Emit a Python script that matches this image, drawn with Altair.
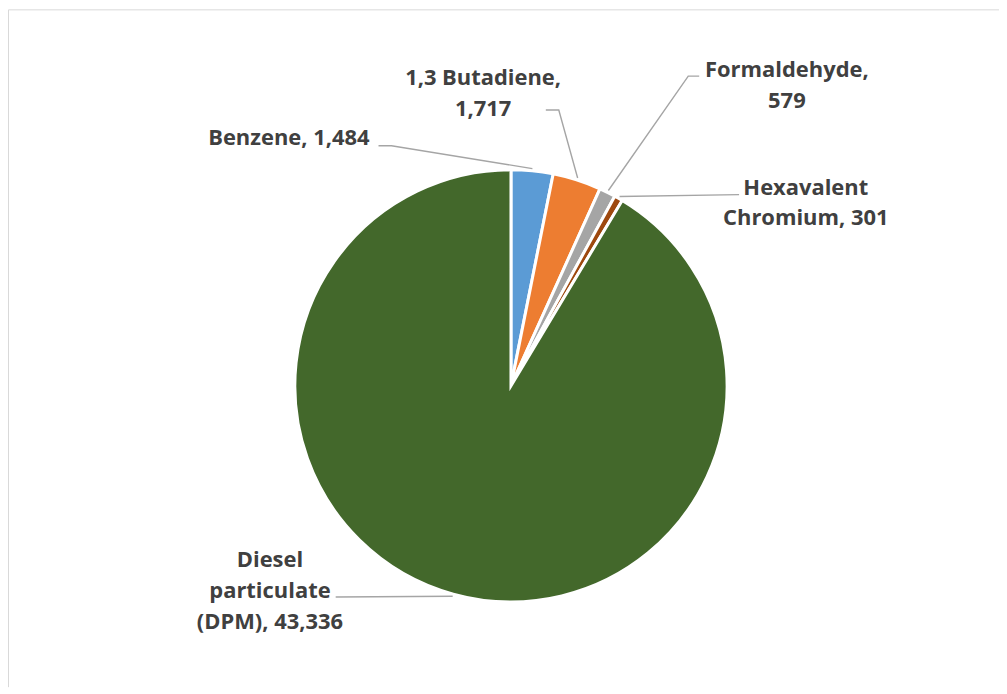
import math
import altair as alt
import pandas as pd

# ---- data ----
categories = ["Benzene", "1,3 Butadiene", "Formaldehyde", "Hexavalent Chromium", "Diesel particulate (DPM)"]
values = [1484, 1717, 579, 301, 43336]
label_texts = ["Benzene, 1,484", "1,3 Butadiene,\n1,717", "Formaldehyde,\n579",
               "Hexavalent\nChromium, 301", "Diesel\nparticulate\n(DPM), 43,336"]
colors = ["#5B9BD5", "#ED7D31", "#A5A5A5", "#9E480E", "#43682B"]

# ---- layout (pixels) ----
W, H = 995, 680
CX, CY = 505, 378
R = 217
EDGE = 1.01
# first-line centre of each label, offset from pie centre (px, x right / y up)
label_pos = [(-223, 249), (-28, 309), (277, 317), (296, 199), (-242, -175)]
# leader line elbow and end (px from centre)
leader_pts = [
    [(-120, 241), (-133, 241)],
    [(48, 277), (35, 277)],
    [(178, 311), (189, 311)],
    [(229, 192), (229, 192)],
    [(-176, -212), (-176, -212)],
]

x_dom = [-CX / R, (W - CX) / R]
y_dom = [-(H - CY) / R, CY / R]
xs = alt.Scale(domain=x_dom, nice=False, zero=False)
ys = alt.Scale(domain=y_dom, nice=False, zero=False)
ax_x = alt.Axis(orient="top", domain=True, domainColor="#D9D9D9", domainWidth=1,
                ticks=False, labels=False, grid=False, title="")
ax_y = alt.Axis(orient="left", domain=True, domainColor="#D9D9D9", domainWidth=1,
                ticks=False, labels=False, grid=False, title="")

total = sum(values)

df_pie = pd.DataFrame({
    "category": categories,
    "value": values,
    "idx": list(range(len(values))),
    "cx": [0.0] * len(values),
    "cy": [0.0] * len(values),
})

# leader lines
lrows = []
cum = 0
for i, v in enumerate(values):
    a = 2 * math.pi * (cum + v / 2) / total
    cum += v
    pts = [(EDGE * math.sin(a), EDGE * math.cos(a))] + [(px / R, py / R) for px, py in leader_pts[i]]
    for k, (px, py) in enumerate(pts):
        lrows.append({"seg": categories[i], "k": k, "lx": px, "ly": py})
df_lead = pd.DataFrame(lrows)

df_lab = pd.DataFrame({
    "label": label_texts,
    "tx": [p[0] / R for p in label_pos],
    "ty": [p[1] / R for p in label_pos],
})

pie = alt.Chart(df_pie).transform_window(
    cum_end="sum(value)", sort=[alt.SortField("idx", order="ascending")], frame=[None, 0]
).transform_calculate(
    cum_start="datum.cum_end - datum.value"
).mark_arc(radius=R, stroke="white", strokeWidth=3).encode(
    theta=alt.Theta("cum_start:Q", scale=alt.Scale(domain=[0, total])),
    theta2="cum_end:Q",
    x=alt.X("cx:Q", scale=xs, axis=ax_x),
    y=alt.Y("cy:Q", scale=ys, axis=ax_y),
    color=alt.Color("category:N", scale=alt.Scale(domain=categories, range=colors), legend=None),
)

lines = alt.Chart(df_lead).mark_line(color="#A5A5A5", strokeWidth=1.4).encode(
    x=alt.X("lx:Q", scale=xs, axis=ax_x),
    y=alt.Y("ly:Q", scale=ys, axis=ax_y),
    detail="seg:N",
    order="k:O",
)

labels = alt.Chart(df_lab).mark_text(
    font="Open Sans", fontWeight="bold", fontSize=22, color="#404040",
    lineBreak="\n", lineHeight=31, align="center", baseline="middle",
).encode(
    x=alt.X("tx:Q", scale=xs, axis=ax_x),
    y=alt.Y("ty:Q", scale=ys, axis=ax_y),
    text="label:N",
)

chart = alt.layer(pie, lines, labels).properties(
    width=W, height=H, padding=0, autosize="none"
).configure_view(stroke=None)

chart.save("out.html", embed_options={"renderer": "svg", "actions": False})
